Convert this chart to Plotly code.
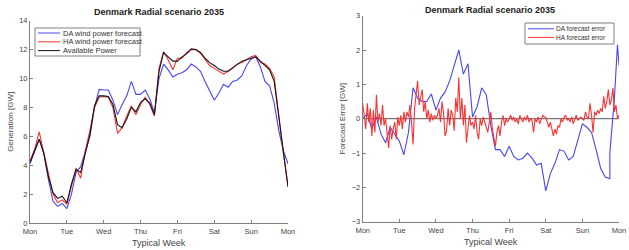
import plotly.graph_objects as go

# ---------------- data ----------------
day_labels = ["Mon", "Tue", "Wed", "Thu", "Fri", "Sat", "Sun", "Mon"]
day_ticks = [0, 1, 2, 3, 4, 5, 6, 7]

# 3-hour steps over the typical week
hours3 = [h * 3 for h in range(57)]

available = [4.2, 5.0, 5.8, 4.8, 3.2, 2.1, 1.7, 1.85, 1.4, 2.7, 3.7, 3.5, 4.8, 6.1, 8.1, 8.8,
             8.8, 8.75, 8.2, 6.8, 6.6, 7.2, 8.0, 7.7, 8.35, 8.6, 8.3, 7.5, 10.5, 11.8, 11.5, 11.2,
             11.2, 11.5, 11.7, 12.05, 12.0, 11.8, 11.4, 11.1, 10.9, 10.65, 10.5, 10.5, 10.75, 11.0, 11.2, 11.3,
             11.4, 11.5, 11.2, 10.9, 10.6, 9.8, 7.4, 4.8, 2.5]

da_forecast = [4.1, 5.0, 5.8, 4.8, 3.0, 1.5, 1.15, 1.35, 1.0, 2.0, 3.5, 3.9, 4.9, 6.0, 8.0, 9.25,
               9.2, 9.2, 8.5, 7.5, 8.2, 8.8, 9.8, 8.9, 8.9, 9.2, 8.6, 7.6, 10.0, 11.0, 10.6, 10.1,
               10.3, 10.4, 10.6, 11.0, 10.8, 10.5, 9.8, 9.2, 8.5, 9.0, 9.6, 9.4, 9.8, 9.9, 10.2, 10.9,
               11.35, 11.5, 10.8, 9.8, 9.5, 8.3, 6.4, 5.0, 4.1]

ha_forecast = [4.3, 5.1, 6.3, 4.9, 3.4, 2.0, 1.4, 1.6, 1.3, 2.6, 3.8, 3.1, 5.0, 6.4, 8.0, 8.7,
               8.75, 8.7, 8.0, 6.2, 6.6, 7.4, 8.1, 7.5, 8.2, 8.7, 8.2, 7.4, 10.7, 11.85, 11.3, 10.6,
               11.4, 11.4, 11.8, 12.0, 12.0, 11.75, 11.3, 10.9, 10.7, 10.5, 10.3, 10.5, 10.7, 11.0, 11.1, 11.3,
               11.5, 11.6, 11.1, 11.0, 10.7, 10.1, 7.3, 4.8, 2.6]

da_err_hours = [h * 3 for h in range(55)] + [162, 165, 167, 168]
da_error = [0.0, 0.15, -0.3, 0.05, -0.45, -0.7, -0.25, -0.45, -0.65, -1.05, -0.4, 0.9, 0.6, 0.5, 0.5, 0.72,
            0.25, 0.6, 0.78, 1.1, 1.55, 2.0, 1.3, 1.6, 0.05, 0.35, 0.9, 0.7, -0.2, -0.9, -0.9, -1.1,
            -0.8, -1.1, -1.2, -1.15, -1.0, -1.15, -1.35, -1.3, -2.1, -1.6, -1.3, -0.9, -0.95, -1.2, -1.1, -0.6,
            -0.15, -0.25, -0.4, -0.9, -1.45, -1.7, -1.75, -1.0, 0.6, 2.15, 1.55]

ha_err_hours = list(range(169))
ha_error = [0.45, 0.1, -0.3, 0.45, -0.1, 0.3, -0.5, 0.25, -0.4, 0.7, -0.1, 0.15, -0.2, 0.4, -0.2, 0.0,
            -0.35, -0.85, -0.2, -0.6, -0.3, -0.1, -0.6, 0.05,
            -0.2, 0.1, -0.3, 0.2, -0.1, 0.2, 0.05, 0.4, -0.1, -0.75, 0.3, 0.8, 1.1, 0.4, 0.6, 0.85,
            0.2, 0.5, 0.0, 0.25, -0.1, 0.15, -0.05, 0.1,
            0.0, 0.1, 0.3, -0.1, 0.5, 0.15, -0.5, -0.35, 0.3, -0.2, 0.25, 0.1, -0.35, 0.6, 0.2, 1.2,
            0.0, 0.6, -0.2, 0.4, -0.7, -0.3, 0.1, -0.2,
            -0.1, -0.3, 0.1, -0.4, -0.6, 0.0, -0.2, 0.05, -0.1, -0.3, -0.4, -0.1, 0.2, -0.3, -0.6, -0.8,
            -0.4, -0.2, -0.5, -0.1, 0.1, -0.2, 0.0, -0.1,
            0.0, 0.1, -0.05, 0.05, -0.1, 0.0, -0.15, 0.1, 0.0, -0.1, 0.05, -0.05, 0.1, -0.1, 0.0, -0.05,
            -0.4, 0.0, -0.1, 0.05, -0.15, 0.0, 0.1, 0.05,
            0.05, -0.1, -0.25, -0.1, -0.35, -0.5, -0.3, -0.45, -0.2, -0.25, 0.0, -0.1, 0.05, 0.1, -0.05, 0.0,
            -0.1, 0.05, -0.15, 0.0, 0.1, -0.05, 0.0, 0.05,
            0.0, -0.05, 0.2, 0.05, 0.0, 0.45, 0.1, -0.4, 0.2, 0.1, 0.25, 0.15, 0.3, 0.2, 0.65, 0.3,
            0.5, 0.85, 0.4, 0.55, 0.9, 0.2, 0.4, 0.0, 0.1]

left_legend = ["DA wind power forecast", "HA wind power forecast", "Available Power"]
right_legend = ["DA forecast error", "HA forecast error"]

def to_days(hs):
    return [h / 24 for h in hs]

# ---------------- style ----------------
W, H = 629, 250
BLUE = "rgb(70,70,240)"
RED = "rgb(250,50,50)"
BLACK = "rgb(20,20,20)"
FONT = "Liberation Sans, Arial, sans-serif"
AX = "#808080"
TXT = "#444444"

def px(x):
    return x / W

def py(y):
    return (H - y) / H

fig = go.Figure()
fig.add_trace(go.Scatter(x=to_days(hours3), y=da_forecast, mode="lines", name=left_legend[0],
                         line=dict(color=BLUE, width=1.1)))
fig.add_trace(go.Scatter(x=to_days(hours3), y=ha_forecast, mode="lines", name=left_legend[1],
                         line=dict(color=RED, width=1.1)))
fig.add_trace(go.Scatter(x=to_days(hours3), y=available, mode="lines", name=left_legend[2],
                         line=dict(color=BLACK, width=1.1)))

fig.add_trace(go.Scatter(x=to_days(da_err_hours), y=da_error, mode="lines", name=right_legend[0],
                         line=dict(color=BLUE, width=1.1), xaxis="x2", yaxis="y2"))
fig.add_trace(go.Scatter(x=to_days(ha_err_hours), y=ha_error, mode="lines", name=right_legend[1],
                         line=dict(color=RED, width=1.1), xaxis="x2", yaxis="y2"))

shapes = [dict(type="line", xref="x2", yref="y2", x0=0, x1=7, y0=0, y1=0,
               line=dict(color="#555555", width=1), layer="below")]
annotations = [
    dict(text="<b>Denmark Radial scenario 2035</b>", x=px(159), y=py(12), xanchor="center", yanchor="middle",
         xref="paper", yref="paper", showarrow=False, font=dict(family=FONT, size=9, color="#222222")),
    dict(text="<b>Denmark Radial scenario 2035</b>", x=px(490), y=py(10), xanchor="center", yanchor="middle",
         xref="paper", yref="paper", showarrow=False, font=dict(family=FONT, size=9, color="#222222")),
    # x-axis titles
    dict(text="Typical Week", x=px(159), y=py(243), xanchor="center", yanchor="middle",
         xref="paper", yref="paper", showarrow=False, font=dict(family=FONT, size=9, color=TXT)),
    dict(text="Typical Week", x=px(491), y=py(242), xanchor="center", yanchor="middle",
         xref="paper", yref="paper", showarrow=False, font=dict(family=FONT, size=9, color=TXT)),
]

# manual legend boxes (compact, MATLAB-like)
def add_legend(box, names, colors, y0, dy, lx0, lx1, tx, fsize):
    shapes.append(dict(type="rect", xref="paper", yref="paper", x0=px(box[0]), x1=px(box[1]),
                       y0=py(box[3]), y1=py(box[2]), line=dict(color=AX, width=1), fillcolor="white",
                       layer="above"))
    for i, (n, c) in enumerate(zip(names, colors)):
        yy = y0 + i * dy
        shapes.append(dict(type="line", xref="paper", yref="paper", x0=px(lx0), x1=px(lx1),
                           y0=py(yy), y1=py(yy), line=dict(color=c, width=1), layer="above"))
        annotations.append(dict(text=n, x=px(tx), y=py(yy), xanchor="left", yanchor="middle",
                                xref="paper", yref="paper", showarrow=False,
                                font=dict(family=FONT, size=fsize, color="#333333")))

add_legend((35, 140, 28, 56), left_legend, [BLUE, RED, BLACK], 33, 8.8, 38, 60, 61, 7.5)
add_legend((525, 614, 23, 44), right_legend, [BLUE, RED], 28.8, 8.6, 528, 554, 554, 6.5)

axis_common = dict(showline=True, linecolor=AX, linewidth=1, ticks="inside", ticklen=3, tickcolor=AX,
                   showgrid=False, zeroline=False, tickfont=dict(family=FONT, size=7.5, color=TXT),
                   mirror=False, automargin=False)

fig.update_layout(
    width=W, height=H,
    margin=dict(l=0, r=0, t=0, b=0),
    paper_bgcolor="white", plot_bgcolor="white",
    font=dict(family=FONT, color=TXT),
    showlegend=False,
    xaxis=dict(domain=[px(30), px(288)], range=[0, 7], tickvals=day_ticks, ticktext=day_labels,
               ticklabelstandoff=1, anchor="y", **axis_common),
    yaxis=dict(domain=[py(223), py(20.7)], range=[0, 14], dtick=2,
               title=dict(text="Generation [GW]", font=dict(size=8, color=TXT), standoff=4), anchor="x",
               **axis_common),
    xaxis2=dict(domain=[px(362.7), px(619)], range=[0, 7], tickvals=day_ticks, ticktext=day_labels,
                ticklabelstandoff=1, anchor="y2", **axis_common),
    yaxis2=dict(domain=[py(221.7), py(15.7)], range=[-3, 3], dtick=1,
                title=dict(text="Forecast Error [GW]", font=dict(size=8, color=TXT), standoff=4), anchor="x2",
                **axis_common),
    shapes=shapes,
    annotations=annotations,
)

fig.write_html("out.html", config={"displayModeBar": False},
               post_script="document.body.style.margin='0';")
